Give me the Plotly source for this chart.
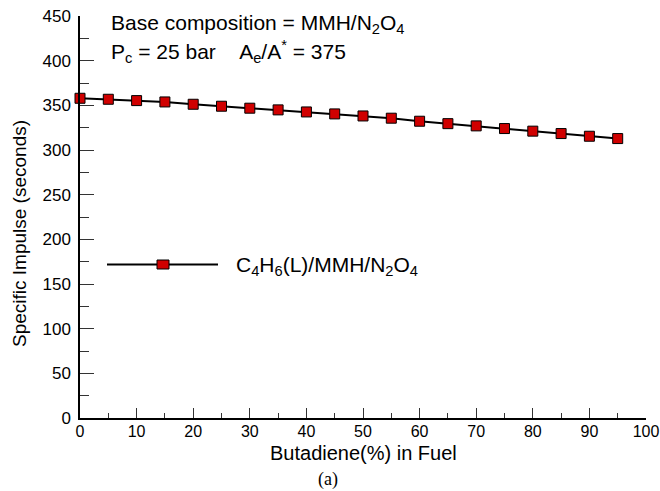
import plotly.graph_objects as go

butadiene_pct = [0, 5, 10, 15, 20, 25, 30, 35, 40, 45, 50, 55, 60, 65, 70, 75, 80, 85, 90, 95]
isp_seconds = [357.9, 356.8, 355.3, 353.8, 351.2, 349.0, 346.8, 344.9, 342.6, 340.4,
               338.1, 335.6, 332.2, 329.5, 327.0, 324.0, 321.1, 318.4, 315.4, 312.8]
series_name = "C<sub>4</sub>H<sub>6</sub>(L)/MMH/N<sub>2</sub>O<sub>4</sub>"
x_ticks = [0, 10, 20, 30, 40, 50, 60, 70, 80, 90, 100]
y_ticks = [0, 50, 100, 150, 200, 250, 300, 350, 400, 450]

FONT = "Liberation Sans, Arial, sans-serif"
RED = "#d00000"

fig = go.Figure()
fig.add_trace(go.Scatter(
    x=butadiene_pct, y=isp_seconds, mode="lines+markers", name=series_name,
    line=dict(color="black", width=2),
    marker=dict(symbol="square", size=10, color=RED, line=dict(color="black", width=1)),
    cliponaxis=False, showlegend=False,
))

L, R, T, B = 80, 14, 16, 73
W, H = 660, 491
pw, ph = W - L - R, H - T - B

def px(xp):
    return (xp - L) / pw

def py(yp):
    return (H - B - yp) / ph

shapes = [
    dict(type="line", xref="paper", yref="paper", x0=px(107), x1=px(218), y0=py(264.5), y1=py(264.5),
         line=dict(color="black", width=2)),
    dict(type="rect", xref="paper", yref="paper", x0=px(157), x1=px(169), y0=py(260), y1=py(269),
         fillcolor=RED, line=dict(color="black", width=1)),
]

annotations = [
    dict(text="Base composition = MMH/N<sub>2</sub>O<sub>4</sub>", x=px(109), y=py(24), xref="paper", yref="paper",
         xanchor="left", yanchor="middle", showarrow=False, font=dict(family=FONT, size=21, color="black")),
    dict(text="P<sub>c</sub> = 25 bar&nbsp;&nbsp;&nbsp;&nbsp;A<sub>e</sub>/A<sup>*</sup> = 375", x=px(109), y=py(51),
         xref="paper", yref="paper", xanchor="left", yanchor="middle", showarrow=False,
         font=dict(family=FONT, size=21, color="black")),
    dict(text=series_name, x=px(234), y=py(266), xref="paper", yref="paper",
         xanchor="left", yanchor="middle", showarrow=False, font=dict(family=FONT, size=21, color="black")),
    dict(text="Butadiene(%) in Fuel", x=px(363), y=py(453), xref="paper", yref="paper",
         xanchor="center", yanchor="middle", showarrow=False, font=dict(family=FONT, size=20, color="black")),
    dict(text="Specific Impulse (seconds)", x=px(19), y=py(234), xref="paper", yref="paper", textangle=-90,
         xanchor="center", yanchor="middle", showarrow=False, font=dict(family=FONT, size=19, color="black")),
    dict(text="(a)", x=px(328), y=py(479), xref="paper", yref="paper",
         xanchor="center", yanchor="middle", showarrow=False,
         font=dict(family="Liberation Serif, Times New Roman, serif", size=18, color="black")),
]

fig.update_layout(
    width=W, height=H, margin=dict(l=L, r=R, t=T, b=B, pad=0, autoexpand=False),
    paper_bgcolor="white", plot_bgcolor="white",
    font=dict(family=FONT, color="black"),
    shapes=shapes, annotations=annotations, showlegend=False,
    xaxis=dict(range=[0, 100], tickvals=x_ticks, ticks="inside", ticklen=10, tickwidth=1, tickcolor="#333",
               showline=True, linecolor="black", linewidth=1.5, showgrid=False, zeroline=False,
               tickfont=dict(family=FONT, size=16, color="black"), ticklabelstandoff=-2,
               ticklabeloverflow="allow", automargin=False,
               minor=dict(dtick=5, ticks="inside", ticklen=5, tickwidth=1, tickcolor="#333", showgrid=False)),
    yaxis=dict(range=[0, 450], tickvals=y_ticks, ticks="inside", ticklen=14, tickwidth=1, tickcolor="#333",
               showline=True, linecolor="black", linewidth=1.5, showgrid=False, zeroline=False,
               tickfont=dict(family=FONT, size=17, color="black"), ticklabelstandoff=4, automargin=False,
               minor=dict(dtick=25, ticks="inside", ticklen=9, tickwidth=1, tickcolor="#333", showgrid=False)),
)

fig.write_html("out.html")
